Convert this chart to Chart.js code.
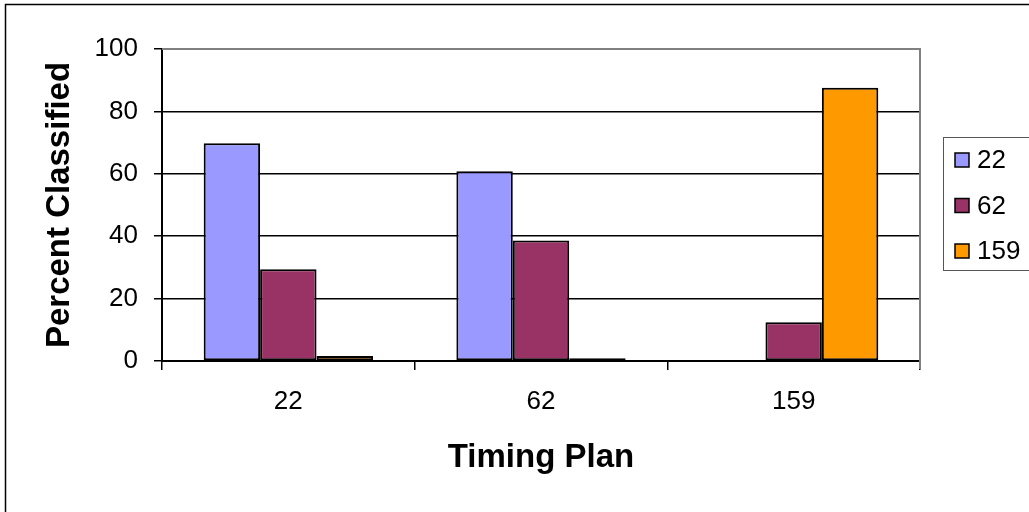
<!DOCTYPE html>
<html>
<head>
<meta charset="utf-8">
<script src="https://cdn.jsdelivr.net/npm/chart.js@4/dist/chart.umd.min.js"></script>
<style>
  html, body { margin: 0; padding: 0; background: #fff; }
  #wrap { width: 1029px; height: 512px; }
</style>
</head>
<body>
<div id="wrap"><canvas id="c" width="1029" height="512"></canvas></div>
<script>
// Timing plans on the horizontal axis
const timingPlans = ['22', '62', '159'];
// Share of samples classified as each plan (percent)
const classified22 = [69.8, 60.8, 0];
const classified62 = [29.4, 38.6, 12.4];
const classified159 = [1.6, 0.9, 87.6];
const seriesNames = ['22', '62', '159'];
const seriesColors = ['#9999FF', '#993366', '#FF9900'];
const yTicks = [0, 20, 40, 60, 80, 100];

const FONT = '"Liberation Sans", Arial, sans-serif';

// Outer frame, plot border (top/right) and the boxed legend on the right
const decorations = {
  id: 'decorations',
  beforeDraw(chart) {
    const ctx = chart.ctx;
    ctx.save();
    ctx.fillStyle = '#fff';
    ctx.fillRect(0, 0, chart.width, chart.height);
    ctx.strokeStyle = '#000';
    ctx.lineWidth = 1.5;
    ctx.strokeRect(5.5, 4.5, chart.width + 20, chart.height + 20);
    ctx.restore();
  },
  afterDatasetsDraw(chart) {
    const ctx = chart.ctx;
    const a = chart.chartArea;
    ctx.save();
    ctx.strokeStyle = '#808080';
    ctx.lineWidth = 2;
    ctx.beginPath();
    ctx.moveTo(a.left, a.top);
    ctx.lineTo(a.right, a.top);
    ctx.lineTo(a.right, a.bottom + 8);
    ctx.stroke();

    // legend
    const lx = 943.5, ly = 137.5, lw = 120, lh = 133;
    ctx.strokeStyle = '#555';
    ctx.lineWidth = 1;
    ctx.strokeRect(lx, ly, lw, lh);
    ctx.font = '26px ' + FONT;
    ctx.textBaseline = 'middle';
    ctx.textAlign = 'left';
    chart.data.datasets.forEach((ds, i) => {
      const cy = 160 + i * 45.5;
      ctx.fillStyle = ds.backgroundColor;
      ctx.fillRect(955, cy - 7, 14, 14);
      ctx.strokeStyle = '#000';
      ctx.lineWidth = 1.5;
      ctx.strokeRect(955, cy - 7, 14, 14);
      ctx.fillStyle = '#000';
      ctx.fillText(ds.label, 977, cy + 1);
    });
    ctx.restore();
  }
};

const datasets = [classified22, classified62, classified159].map((vals, i) => ({
  label: seriesNames[i],
  data: vals,
  backgroundColor: seriesColors[i],
  borderColor: '#000',
  borderWidth: 2,
  borderSkipped: false
}));

new Chart(document.getElementById('c'), {
  type: 'bar',
  data: { labels: timingPlans, datasets },
  options: {
    responsive: false,
    animation: false,
    layout: { padding: { top: 49, right: 109, left: 0, bottom: 0 } },
    plugins: {
      legend: { display: false },
      tooltip: { enabled: false }
    },
    datasets: {
      bar: { categoryPercentage: 0.67, barPercentage: 1.0 }
    },
    scales: {
      x: {
        offset: true,
        grid: {
          offset: true,
          drawOnChartArea: false,
          drawTicks: true,
          tickLength: 9,
          color: '#000',
          lineWidth: 1.5
        },
        border: { display: true, color: '#000', width: 2 },
        ticks: {
          color: '#000',
          font: { family: FONT, size: 26 },
          padding: 16
        },
        title: {
          display: true,
          text: 'Timing Plan',
          color: '#000',
          font: { family: FONT, size: 33, weight: 'bold' },
          padding: { top: 0, bottom: 34 }
        },
        afterFit(scale) { scale.height = 151; }
      },
      y: {
        min: 0,
        max: 100,
        afterBuildTicks(scale) { scale.ticks = yTicks.map(v => ({ value: v })); },
        grid: {
          color: ctx => (ctx.tick && ctx.tick.value === 100 ? '#808080' : '#000'),
          lineWidth: 1.5,
          tickLength: 8,
          tickColor: '#000'
        },
        border: { display: true, color: '#000', width: 2 },
        ticks: {
          color: '#000',
          font: { family: FONT, size: 26 },
          padding: 16
        },
        title: {
          display: true,
          text: 'Percent Classified',
          color: '#000',
          font: { family: FONT, size: 33, weight: 'bold' },
          padding: { top: 40, bottom: 0 }
        },
        afterFit(scale) { scale.width = 162; }
      }
    }
  },
  plugins: [decorations]
});
</script>
</body>
</html>
